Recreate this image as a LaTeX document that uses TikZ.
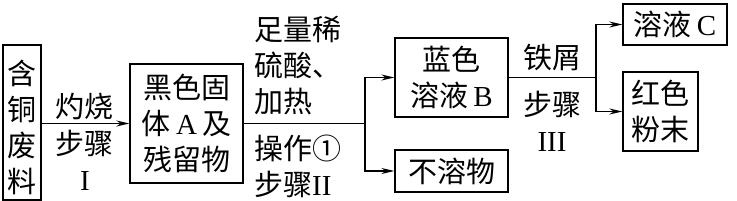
\documentclass[tikz,border=0pt]{standalone}
\usepackage{fontspec}
\setmainfont{Noto Sans CJK SC}
\newfontfamily\lat{Liberation Serif}
\usetikzlibrary{arrows.meta}
\begin{document}
\begin{tikzpicture}[x=1pt,y=-1pt,
  every node/.style={inner sep=0pt, font=\fontsize{29}{36}\selectfont},
  box/.style={draw, line width=1.3pt, rectangle},
  lbl/.style={align=center},
  conn/.style={line width=1.3pt},
  arr/.style={conn, -{Stealth[length=13pt,width=6pt]}}]
\useasboundingbox (0,0) rectangle (737,201);
% boxes
\node[box, minimum width=38, minimum height=155] (b1) at (22,122.5) {};
\node[lbl] (t1) at (22,127) {含\\铜\\废\\料};
\node[box, minimum width=113, minimum height=119, align=center] (b2) at (186.5,123.5) {黑色固\\体\hspace{6pt}{\lat A}\hspace{6pt}及\\残留物};
\node[box, minimum width=113, minimum height=79, align=center] (bB) at (451.5,77.5) {蓝色\\溶液\hspace{5pt}{\lat B}};
\node[box, minimum width=113, minimum height=42] (bN) at (451.5,171) {不溶物};
\node[box, minimum width=104, minimum height=41] (bC) at (675,24.5) {溶液\hspace{5pt}{\lat C}};
\node[box, minimum width=75, minimum height=79, align=center] (bR) at (660.5,111.5) {红色\\粉末};
% labels
\node[lbl] (l1a) at (85,106) {灼烧};
\node[lbl] (l1b) at (85,160) {步骤\\{\lat I}};
\node[align=left, anchor=west] (l2a) at (254,66) {足量稀\\硫酸、\\加热};
\node[align=left, anchor=west] (l2b) at (254,166) {操作①\\步骤{\lat II}};
\node[lbl] (l3a) at (552,58) {铁屑};
\node[lbl] (l3b) at (552,121.5) {步骤\\{\lat III}};
% connectors
\coordinate (j1) at (365,123.5);
\coordinate (j2) at (596,77.5);
\draw[arr] (b1.east |- b2.west) -- (b2.west);
\draw[conn] (b2.east) -- (j1);
\draw[arr] (j1) -- (j1 |- bB.west) -- (bB.west);
\draw[arr] (j1) -- (j1 |- bN.west) -- (bN.west);
\draw[conn] (bB.east) -- (j2);
\draw[arr] (j2) -- (j2 |- bC.west) -- (bC.west);
\draw[arr] (j2) -- (j2 |- bR.west) -- (bR.west);
\end{tikzpicture}
\end{document}
